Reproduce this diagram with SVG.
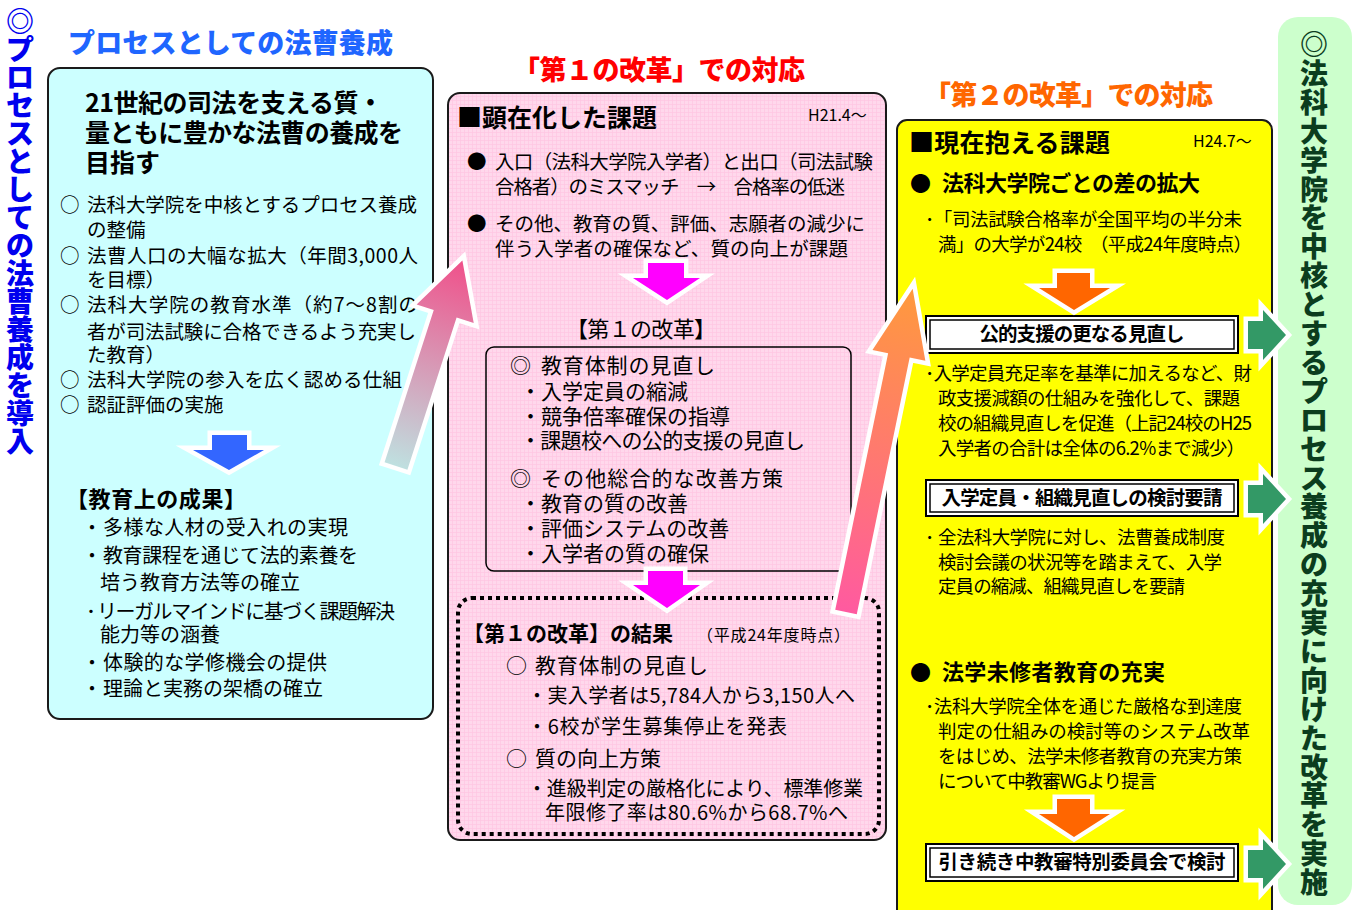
<svg xmlns="http://www.w3.org/2000/svg" width="1362" height="910" viewBox="0 0 1362 910">
<defs>
<style>
text{font-family:"Noto Sans CJK JP","Noto Sans CJK SC",sans-serif;fill:#000}
.b{font-weight:700}
.h{font-weight:900}
.s16{font-size:16px}
.s18{font-size:18.5px}
.s19{font-size:19.5px}
.s20{font-size:20px}
.s21{font-size:21px}
.s22{font-size:22px}
.s25{font-size:25px}
.s27{font-size:27px}
.s28{font-size:28px}
.box{stroke:#1a1a1a;stroke-width:2}
.wo{stroke:#fff;stroke-width:9;stroke-linejoin:miter;stroke-miterlimit:10;paint-order:stroke}
.dbl{fill:#fff;stroke:#000;stroke-width:2}
.dbl2{fill:none;stroke:#000;stroke-width:1.5}
</style>
<pattern id="pk" width="4" height="4" patternUnits="userSpaceOnUse">
<rect width="4" height="4" fill="#ffd8ec"/>
<path d="M0 0.5H4M0.5 0V4" stroke="#ffc6e3" stroke-width="0.7"/>
</pattern>
<linearGradient id="gPink" gradientUnits="userSpaceOnUse" x1="0" y1="0" x2="0" y2="-216">
<stop offset="0" stop-color="#bfe0e0"/>
<stop offset="1" stop-color="#f0508a"/>
</linearGradient>
<linearGradient id="gOr" gradientUnits="userSpaceOnUse" x1="0" y1="0" x2="0" y2="-332">
<stop offset="0" stop-color="#ff5aa0"/>
<stop offset="1" stop-color="#ff9a3c"/>
</linearGradient>
</defs>
<rect width="1362" height="910" fill="#fff"/>

<g id="left-title">
<text class="h s28" style="fill:#0000ee" text-anchor="middle" x="20 20 20 20 20 20 20 20 20 20 20 20 20 20 20 20" y="32 60 88 116 144 172 200 228 256 284 312 340 368 396 424 452">◎プロセスとしての法曹養成を導入</text>
<text class="h s27" style="fill:#1f66ff" x="68" y="53" textLength="325">プロセスとしての法曹養成</text>
</g>

<g id="node-left">
<rect class="box" x="48" y="68" width="385" height="651" rx="12" fill="#ccffff"/>
<text class="b s25" x="85" y="112" textLength="298">21世紀の司法を支える質・</text>
<text class="b s25" x="85" y="142" textLength="318">量ともに豊かな法曹の養成を</text>
<text class="b s25" x="85" y="172">目指す</text>
<g class="s19">
<text x="60" y="212">○</text><text x="87" y="212" textLength="330">法科大学院を中核とするプロセス養成</text>
<text x="87" y="237">の整備</text>
<text x="60" y="263">○</text><text x="87" y="263" textLength="331">法曹人口の大幅な拡大（年間3,000人</text>
<text x="87" y="287">を目標）</text>
<text x="60" y="312">○</text><text x="87" y="312" textLength="331">法科大学院の教育水準（約7～8割の</text>
<text x="87" y="339" textLength="329">者が司法試験に合格できるよう充実し</text>
<text x="87" y="362">た教育）</text>
<text x="60" y="387">○</text><text x="87" y="387" textLength="315">法科大学院の参入を広く認める仕組</text>
<text x="60" y="412">○</text><text x="87" y="412">認証評価の実施</text>
</g>
<text class="b s22" x="66" y="507" textLength="180">【教育上の成果】</text>
<g class="s20">
<text x="82" y="535">・</text><text x="103" y="535" textLength="245">多様な人材の受入れの実現</text>
<text x="82" y="563">・</text><text x="103" y="563" textLength="255">教育課程を通じて法的素養を</text>
<text x="100" y="590" textLength="200">培う教育方法等の確立</text>
<text x="86" y="619">･</text><text x="97" y="619" textLength="298">リーガルマインドに基づく課題解決</text>
<text x="100" y="642">能力等の涵養</text>
<text x="82" y="670">・</text><text x="103" y="670" textLength="224">体験的な学修機会の提供</text>
<text x="82" y="696">・</text><text x="103" y="696" textLength="220">理論と実務の架橋の確立</text>
</g>
</g>

<g id="node-middle">
<text class="h s27" style="fill:#ff0000" x="513" y="80" textLength="292">「第１の改革」での対応</text>
<rect class="box" x="448" y="93" width="438" height="747" rx="12" fill="url(#pk)"/>
<text class="b s25" x="457" y="127" textLength="200">■顕在化した課題</text>
<text class="s16" x="808" y="121">H21.4～</text>
<g class="s19">
<text x="467" y="169">●</text><text x="495" y="169" textLength="378">入口（法科大学院入学者）と出口（司法試験</text>
<text x="495" y="194" textLength="350">合格者）のミスマッチ　→　合格率の低迷</text>
<text x="467" y="231">●</text><text x="495" y="231" textLength="370">その他、教育の質、評価、志願者の減少に</text>
<text x="495" y="256" textLength="353">伴う入学者の確保など、質の向上が課題</text>
</g>
<text class="s22" x="566" y="337" textLength="150">【第１の改革】</text>
<rect x="486" y="347" width="365" height="224" rx="8" fill="none" stroke="#000" stroke-width="1.5"/>
<g class="s21">
<text x="510" y="373">◎</text><text x="541" y="373" textLength="174">教育体制の見直し</text>
<text x="520" y="399">・入学定員の縮減</text>
<text x="520" y="424">・競争倍率確保の指導</text>
<text x="520" y="448" textLength="285">・課題校への公的支援の見直し</text>
<text x="510" y="486">◎</text><text x="541" y="486" textLength="242">その他総合的な改善方策</text>
<text x="520" y="511">・教育の質の改善</text>
<text x="520" y="536">・評価システムの改善</text>
<text x="520" y="561">・入学者の質の確保</text>
</g>
<rect x="458" y="598" width="421" height="236" rx="14" fill="none" stroke="#000" stroke-width="4" stroke-dasharray="4 4"/>
<text class="b s21" x="463" y="641" textLength="210">【第１の改革】の結果</text>
<text class="s16" x="697" y="641" textLength="153">（平成24年度時点）</text>
<g class="s20">
<text class="s21" x="506" y="673">○</text><text class="s21" x="535" y="673" textLength="173">教育体制の見直し</text>
<text x="527" y="703" textLength="328">・実入学者は5,784人から3,150人へ</text>
<text x="527" y="734" textLength="260">・6校が学生募集停止を発表</text>
<text class="s21" x="506" y="766">○</text><text class="s21" x="535" y="766">質の向上方策</text>
<text x="527" y="796" textLength="336">・進級判定の厳格化により、標準修業</text>
<text x="545" y="820" textLength="303">年限修了率は80.6%から68.7%へ</text>
</g>
</g>

<g id="node-right">
<text class="h s27" style="fill:#ff6600" x="924" y="105" textLength="289">「第２の改革」での対応</text>
<rect class="box" x="897" y="120" width="375" height="800" rx="10" fill="#ffff00"/>
<text class="b s25" x="909" y="152" textLength="201">■現在抱える課題</text>
<text class="s16" x="1193" y="147">H24.7～</text>
<text class="s21" x="910" y="191">●</text><text class="b s22" x="942" y="191" textLength="258">法科大学院ごとの差の拡大</text>
<g class="s18">
<text x="925" y="226" textLength="317">･「司法試験合格率が全国平均の半分未</text>
<text x="938" y="251" textLength="314">満」の大学が24校　（平成24年度時点）</text>
<text x="925" y="380" textLength="327">･入学定員充足率を基準に加えるなど、財</text>
<text x="938" y="405" textLength="302">政支援減額の仕組みを強化して、課題</text>
<text x="938" y="430" textLength="314">校の組織見直しを促進（上記24校のH25</text>
<text x="938" y="455" textLength="307">入学者の合計は全体の6.2%まで減少）</text>
<text x="925" y="544">･</text><text x="938" y="544" textLength="287">全法科大学院に対し、法曹養成制度</text>
<text x="938" y="569" textLength="284">検討会議の状況等を踏まえて、入学</text>
<text x="938" y="593" textLength="247">定員の縮減、組織見直しを要請</text>
<text x="925" y="713" textLength="317">･法科大学院全体を通じた厳格な到達度</text>
<text x="938" y="738" textLength="312">判定の仕組みの検討等のシステム改革</text>
<text x="938" y="763" textLength="304">をはじめ、法学未修者教育の充実方策</text>
<text x="938" y="788" textLength="219">について中教審WGより提言</text>
</g>
<text class="s21" x="910" y="680">●</text><text class="b s22" x="942" y="680" textLength="223">法学未修者教育の充実</text>
</g>

<g id="box-koteki">
<rect class="dbl" x="926" y="316" width="312" height="37"/>
<rect class="dbl2" x="930" y="320" width="304" height="29"/>
<text class="b s19" x="1082" y="341" text-anchor="middle" textLength="205">公的支援の更なる見直し</text>
</g>
<g id="box-nyugaku">
<rect class="dbl" x="926" y="480" width="312" height="36"/>
<rect class="dbl2" x="930" y="484" width="304" height="28"/>
<text class="b s19" x="1082" y="505" text-anchor="middle" textLength="281">入学定員・組織見直しの検討要請</text>
</g>
<g id="box-hikitsuzuki">
<rect class="dbl" x="926" y="844" width="312" height="37"/>
<rect class="dbl2" x="930" y="848" width="304" height="29"/>
<text class="b s19" x="1082" y="869" text-anchor="middle" textLength="287">引き続き中教審特別委員会で検討</text>
</g>

<g id="node-goal">
<rect x="1278" y="17" width="74" height="888" rx="20" fill="#ccffcc"/>
<text class="h s28" style="fill:#0b3d1e" text-anchor="middle" x="1314 1314 1314 1314 1314 1314 1314 1314 1314 1314 1314 1314 1314 1314 1314 1314 1314 1314 1314 1314 1314 1314 1314 1314 1314 1314 1314 1314 1314 1314" y="55 83.9 112.8 141.7 170.6 199.5 228.4 257.3 286.2 315.1 344 372.9 401.8 430.7 459.6 488.5 517.4 546.3 575.2 604.1 633 661.9 690.8 719.7 748.6 777.5 806.4 835.3 864.2 893.1">◎法科大学院を中核とするプロセス養成の充実に向けた改革を実施</text>
</g>

<g id="connectors">
<polygon class="wo" fill="#3366ff" points="212,435 247,435 247,450 264,450 229,470 193,450 212,450"/>
<polygon class="wo" fill="#ff00ff" points="648,263 684,263 684,278 700,278 667,300 633,278 648,278"/>
<polygon class="wo" fill="#ff00ff" points="648,571 683,571 683,585 700,585 667,608 633,585 648,585"/>
<polygon class="wo" fill="#ff6600" points="1057,273 1090,273 1090,288 1110,288 1074,310 1039,288 1057,288"/>
<polygon class="wo" fill="#ff6600" points="1057,799 1090,799 1090,814 1110,814 1074,837 1039,814 1057,814"/>
<polygon class="wo" fill="#339966" points="1248,321 1263,321 1263,310 1286,335 1263,360 1263,349 1248,349"/>
<polygon class="wo" fill="#339966" points="1248,485 1263,485 1263,474 1286,499 1263,524 1263,513 1248,513"/>
<polygon class="wo" fill="#339966" points="1248,850 1263,850 1263,839 1286,864 1263,889 1263,878 1248,878"/>
<polygon class="wo" fill="url(#gPink)" transform="translate(396,466) rotate(17.9)" points="-12,0 12,0 12,-160 30,-160 0,-216 -30,-160 -12,-160"/>
<polygon class="wo" fill="url(#gOr)" transform="translate(846,612) rotate(11.65)" points="-11,0 11,0 11,-262 27,-262 0,-330 -27,-262 -11,-262"/>
</g>
</svg>
